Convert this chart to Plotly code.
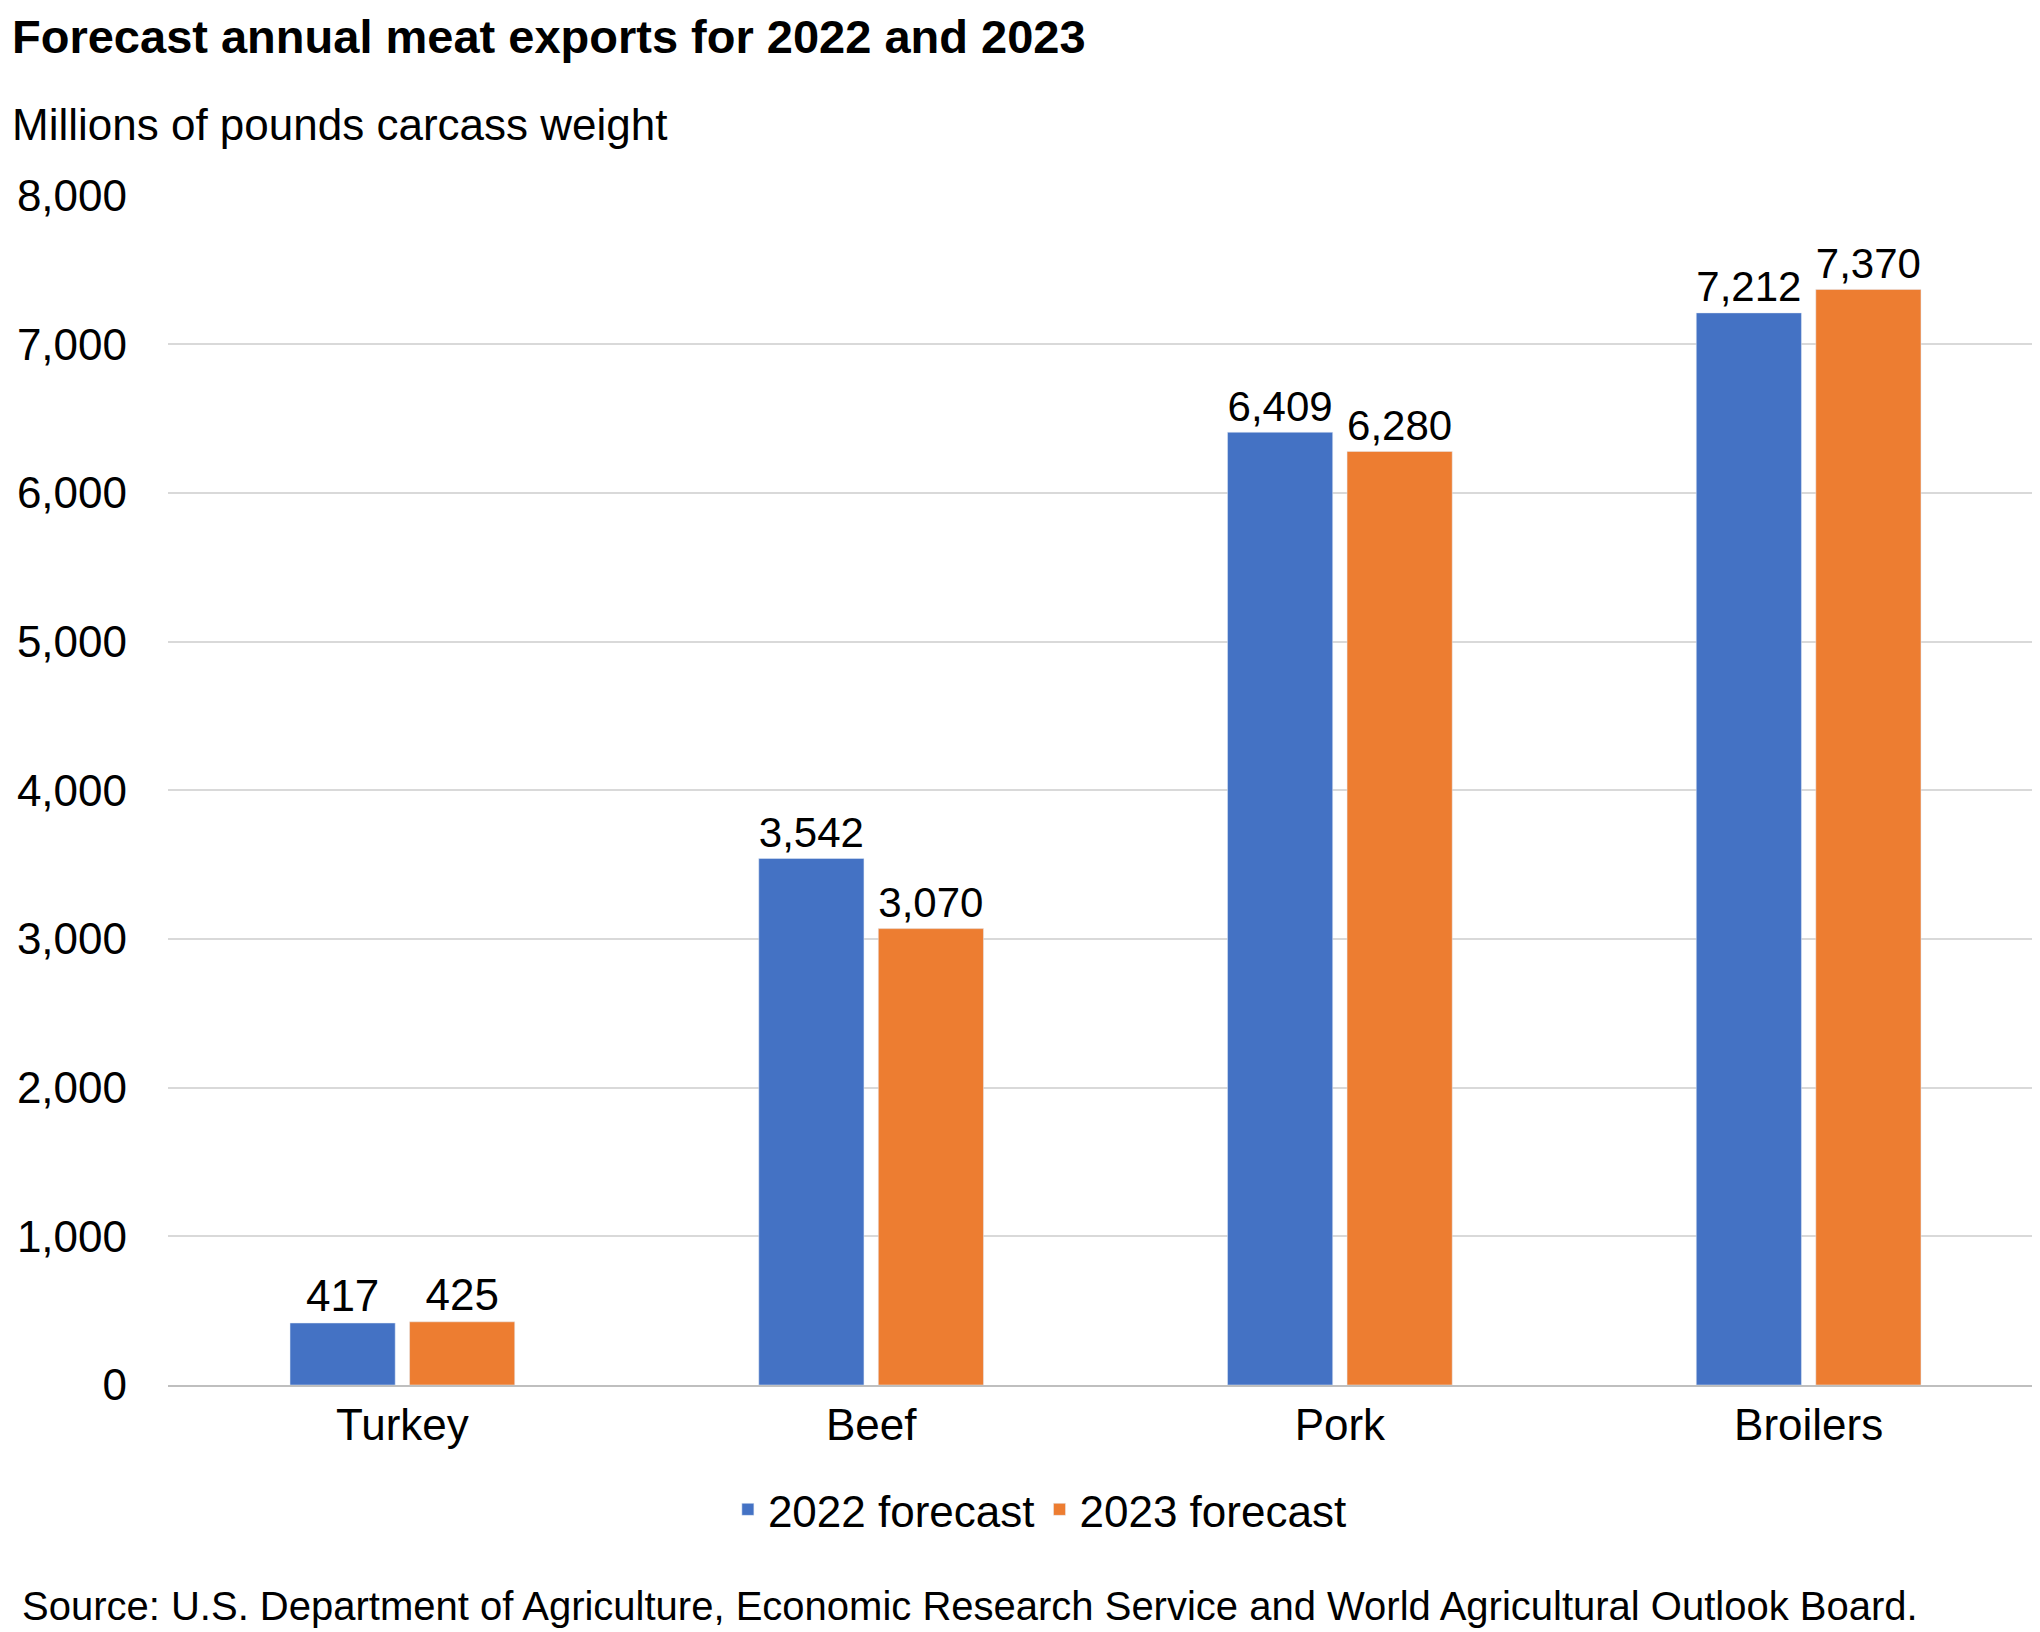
import plotly.graph_objects as go

categories = ["Turkey", "Beef", "Pork", "Broilers"]
forecast_2022 = [417, 3542, 6409, 7212]
forecast_2023 = [425, 3070, 6280, 7370]
y_ticks = [0, 1000, 2000, 3000, 4000, 5000, 6000, 7000, 8000]

font = "Liberation Sans, Arial, sans-serif"

fig = go.Figure()
fig.add_trace(go.Bar(
    x=categories, y=forecast_2022, name="2022 forecast",
    marker_color="#4472C4",
    text=[f"{v:,}" for v in forecast_2022], textposition="outside",
    textfont=dict(size=44, color="black"), cliponaxis=False,
))
fig.add_trace(go.Bar(
    x=categories, y=forecast_2023, name="2023 forecast",
    marker_color="#ED7D31",
    text=[f"{v:,}" for v in forecast_2023], textposition="outside",
    textfont=dict(size=44, color="black"), cliponaxis=False,
))

top, bottom, left, right = 187, 255, 160, 5

fig.update_layout(
    width=2040, height=1632,
    paper_bgcolor="white", plot_bgcolor="white",
    font=dict(family=font, size=44, color="black"),
    margin=dict(l=left, r=right, t=top, b=bottom),
    barmode="group", bargap=0.49, bargroupgap=0.12,
    legend=dict(orientation="h", x=0.465, xanchor="center", y=-0.075, yanchor="top",
                font=dict(size=44), traceorder="normal"),
    xaxis=dict(showline=True, linecolor="#bfbfbf", linewidth=2, ticks="",
               tickfont=dict(size=44)),
    yaxis=dict(range=[0, 8005], tickvals=y_ticks, tickformat=",", showgrid=True,
               gridcolor="#d9d9d9", gridwidth=2, zeroline=False, ticks="",
               ticklabelstandoff=40, tickfont=dict(size=44)),
)

# place the text annotations in pixel terms of the paper
h_plot = 1632 - top - bottom
w_plot = 2040 - left - right
def px(xp, yp):
    return (xp - left) / w_plot, (1632 - bottom - yp) / h_plot

texts = [
    ("<b>Forecast annual meat exports for 2022 and 2023</b>", 2, 28, 47),
    ("Millions of pounds carcass weight", 2, 117, 44),
    ("Source: U.S. Department of Agriculture, Economic Research Service and World Agricultural Outlook Board.", 12, 1598, 40),
]
for text, xp, yp, size in texts:
    x, y = px(xp, yp)
    fig.add_annotation(text=text, x=x, y=y, xref="paper", yref="paper", showarrow=False,
                       xanchor="left", yanchor="middle", font=dict(size=size))

fig.write_html("out.html")
